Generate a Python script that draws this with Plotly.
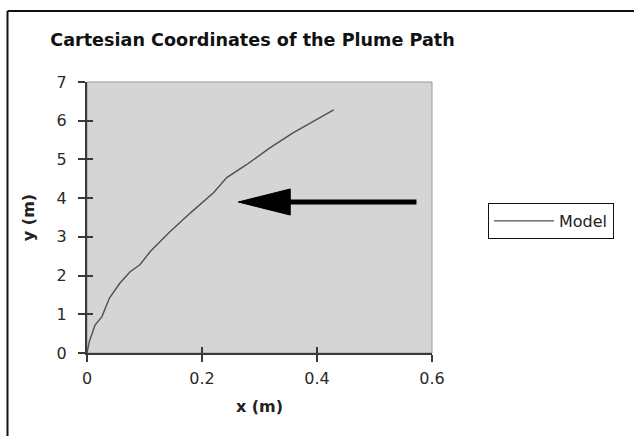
import plotly.graph_objects as go

# ---- data ----
x_m = [0, 0.004, 0.010, 0.014, 0.026, 0.039, 0.057, 0.075, 0.092, 0.110, 0.142,
       0.180, 0.220, 0.243, 0.278, 0.318, 0.359, 0.394, 0.429]
y_m = [0, 0.30, 0.55, 0.72, 0.94, 1.42, 1.80, 2.10, 2.28, 2.62, 3.10,
       3.62, 4.14, 4.53, 4.87, 5.30, 5.69, 5.99, 6.28]
series_name = "Model"
x_ticks = [0, 0.2, 0.4, 0.6]
x_tick_text = ["0", "0.2", "0.4", "0.6"]
y_ticks = [0, 1, 2, 3, 4, 5, 6, 7]

# annotation arrow (data units)
arrow_tip = (0.263, 3.90)
arrow_tail_x = 0.573
arrow_head_len = 0.0905
arrow_head_half = 0.337

FONT = "DejaVu Sans, Liberation Sans, Arial, sans-serif"
W, H = 634, 436
L, R, T, B = 87, 202, 82, 83
pw, ph = W - L - R, H - T - B

def px_x(X):
    return (X - L) / pw

def px_y(Y):
    return (H - B - Y) / ph

fig = go.Figure()
fig.add_trace(go.Scatter(x=x_m, y=y_m, mode="lines", name=series_name,
                         line=dict(color="#505050", width=1.4)))

axis_common = dict(showgrid=False, zeroline=False, showline=True,
                   linecolor="#3a3a3a", linewidth=2, ticks="outside",
                   ticklen=7, tickwidth=1.5, tickcolor="#3a3a3a",
                   tickfont=dict(family=FONT, size=16, color="#2a2a2a"))
fig.update_layout(
    width=W, height=H,
    margin=dict(l=L, r=R, t=T, b=B),
    paper_bgcolor="white", plot_bgcolor="#d5d5d5",
    font=dict(family=FONT, color="#222"),
    title=dict(text="<b>Cartesian Coordinates of the Plume Path</b>",
               font=dict(family=FONT, size=17.6, color="#111"),
               x=px_x(252.5), xref="paper", xanchor="center",
               y=1 - 40 / H, yref="container", yanchor="middle"),
    xaxis=dict(range=[0, 0.6], tickvals=x_ticks, ticktext=x_tick_text,
               ticklabelstandoff=3,
               title=dict(text="<b>x (m)</b>", font=dict(family=FONT, size=16, color="#222"),
                          standoff=14),
               **axis_common),
    yaxis=dict(range=[0, 7], tickvals=y_ticks, ticklabelstandoff=8,
               title=dict(text="<b>y (m)</b>", font=dict(family=FONT, size=16, color="#222"),
                          standoff=18),
               **axis_common),
    xaxis2=dict(range=[0, 0.6], overlaying="x", tickvals=x_ticks, ticks="inside",
                ticklen=6, tickwidth=1.5, tickcolor="#3a3a3a", showticklabels=False,
                showgrid=False, zeroline=False, showline=False),
    yaxis2=dict(range=[0, 7], overlaying="y", tickvals=y_ticks, ticks="inside",
                ticklen=6, tickwidth=1.5, tickcolor="#3a3a3a", showticklabels=False,
                showgrid=False, zeroline=False, showline=False),
    showlegend=True,
    legend=dict(x=px_x(488), y=px_y(203), xanchor="left", yanchor="top",
                bgcolor="white", bordercolor="#111", borderwidth=1,
                font=dict(family=FONT, size=16, color="#222"),
                itemwidth=60),
)
# dummy invisible trace to activate overlay axes
fig.add_trace(go.Scatter(x=[None], y=[None], xaxis="x2", yaxis="y2",
                         showlegend=False, hoverinfo="skip"))

shapes = []
# plot-area border (gray)
shapes.append(dict(type="rect", xref="paper", yref="paper", x0=0, x1=1, y0=0, y1=1,
                   line=dict(color="#9a9a9a", width=1), layer="below"))
# outer frame: top and left lines
shapes.append(dict(type="line", xref="paper", yref="paper",
                   x0=px_x(7.5), x1=px_x(634), y0=px_y(11), y1=px_y(11),
                   line=dict(color="#111", width=2)))
shapes.append(dict(type="line", xref="paper", yref="paper",
                   x0=px_x(7.5), x1=px_x(7.5), y0=px_y(11), y1=px_y(436),
                   line=dict(color="#111", width=2)))
# arrow shaft
tx, ty = arrow_tip
base_x = tx + arrow_head_len
shapes.append(dict(type="line", xref="x", yref="y", x0=base_x - 0.005, x1=arrow_tail_x,
                   y0=ty, y1=ty, line=dict(color="black", width=5)))
# arrow head
shapes.append(dict(type="path", xref="x", yref="y",
                   path=f"M {tx},{ty} L {base_x},{ty + arrow_head_half} L {base_x},{ty - arrow_head_half} Z",
                   fillcolor="black", line=dict(color="black", width=1)))
fig.update_layout(shapes=shapes)

fig.write_html("out.html")
